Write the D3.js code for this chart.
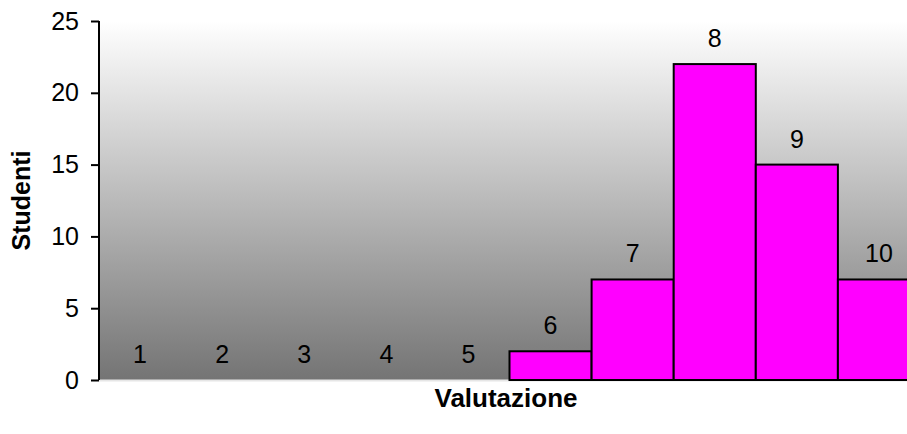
<!DOCTYPE html>
<html>
<head>
<meta charset="utf-8">
<script src="https://cdn.jsdelivr.net/npm/d3@7"></script>
<style>
  html, body { margin: 0; padding: 0; background: #fff; }
  svg { display: block; font-family: "Liberation Sans", Arial, sans-serif; }
</style>
</head>
<body>
<svg id="chart" width="907" height="434"></svg>
<script>
// Grade distribution: number of students per grade
const grades = [1, 2, 3, 4, 5, 6, 7, 8, 9, 10];
const students = [0, 0, 0, 0, 0, 2, 7, 22, 15, 7];
const yTicks = [0, 5, 10, 15, 20, 25];
const xTitle = "Valutazione";
const yTitle = "Studenti";

const svg = d3.select("#chart");
const margin = { left: 99, top: 21, right: -13, bottom: 54 };
const W = 907, H = 434;
const plotW = W - margin.left - margin.right;   // extends beyond the viewport edge
const plotH = H - margin.top - margin.bottom;

const x = d3.scaleBand().domain(grades).range([0, plotW]).padding(0);
const y = d3.scaleLinear().domain([0, 25]).range([plotH, 0]);

const defs = svg.append("defs");
const grad = defs.append("linearGradient")
  .attr("id", "bg").attr("x1", 0).attr("y1", 0).attr("x2", 0).attr("y2", 1);
grad.append("stop").attr("offset", "0%").attr("stop-color", "#ffffff");
grad.append("stop").attr("offset", "100%").attr("stop-color", "#747474");

const g = svg.append("g").attr("transform", `translate(${margin.left},${margin.top})`);

// plot background
g.append("rect")
  .attr("x", 0).attr("y", 0)
  .attr("width", plotW).attr("height", plotH)
  .attr("fill", "url(#bg)");

// light baseline under the plot area
g.append("line")
  .attr("x1", 0).attr("x2", plotW)
  .attr("y1", plotH + 0.5).attr("y2", plotH + 0.5)
  .attr("stroke", "#e6e6e6").attr("stroke-width", 2);

// bars
g.selectAll("rect.bar")
  .data(grades.map((c, i) => ({ c, v: students[i] })).filter(d => d.v > 0))
  .join("rect")
  .attr("class", "bar")
  .attr("x", d => x(d.c))
  .attr("y", d => y(d.v))
  .attr("width", x.bandwidth())
  .attr("height", d => y(0) - y(d.v))
  .attr("fill", "#ff00ff")
  .attr("stroke", "#000")
  .attr("stroke-width", 2);

// category labels above each bar
g.selectAll("text.cat")
  .data(grades.map((c, i) => ({ c, v: students[i] })))
  .join("text")
  .attr("class", "cat")
  .attr("x", d => x(d.c) + x.bandwidth() / 2)
  .attr("y", d => y(d.v) - 17)
  .attr("text-anchor", "middle")
  .attr("font-size", 25)
  .attr("fill", "#000")
  .text(d => d.c);

// y axis
const yAxis = d3.axisLeft(y).tickValues(yTicks).tickSize(8).tickPadding(12);
const ya = g.append("g").call(yAxis)
  .attr("font-size", 25)
  .attr("font-family", "Liberation Sans, Arial, sans-serif");
ya.select(".domain").attr("stroke", "#000").attr("stroke-width", 2).attr("d", `M0,0V${plotH}`);
ya.selectAll(".tick line").attr("stroke", "#000").attr("stroke-width", 2);
ya.selectAll(".tick text").attr("fill", "#000");

// axis titles
svg.append("text")
  .attr("x", 506).attr("y", 407)
  .attr("text-anchor", "middle")
  .attr("font-size", 26).attr("font-weight", "bold")
  .text(xTitle);

svg.append("text")
  .attr("transform", `translate(30,${margin.top + plotH / 2}) rotate(-90)`)
  .attr("text-anchor", "middle")
  .attr("font-size", 25).attr("font-weight", "bold")
  .text(yTitle);
</script>
</body>
</html>
